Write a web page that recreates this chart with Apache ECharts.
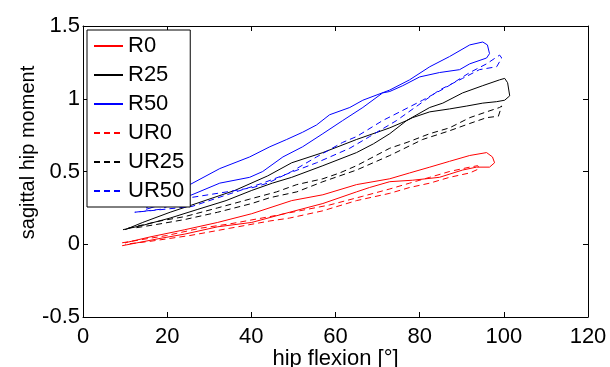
<!DOCTYPE html>
<html>
<head>
<meta charset="utf-8">
<script src="https://cdn.jsdelivr.net/npm/echarts@6/dist/echarts.min.js"></script>
<style>
  html, body { margin: 0; padding: 0; background: #fff; }
  #chart { width: 610px; height: 367px; }
</style>
</head>
<body>
<div id="chart"></div>
<script>
// hip flexion [deg] vs sagittal hip moment, one loop per condition
const seriesNames = ['R0', 'R25', 'R50', 'UR0', 'UR25', 'UR50'];

const r0 = [[9.3,-0.01],[18.3,0.04],[24.2,0.07],[32,0.12],[40.1,0.15],[49.1,0.22],[57,0.28],[65,0.36],[68.1,0.39],[72.9,0.43],[78.3,0.44],[84.7,0.46],[90.2,0.51],[93.5,0.53],[96.6,0.53],[97.8,0.56],[97.3,0.6],[95.9,0.63],[91.9,0.61],[87.1,0.57],[82.4,0.53],[77.6,0.49],[72.9,0.45],[65,0.41],[57,0.34],[49.6,0.3],[40.1,0.21],[32,0.15],[24.2,0.1],[15.9,0.05],[10,0.01]];

const r25 = [[9.5,0.1],[14.2,0.13],[20.7,0.18],[27.3,0.24],[34,0.3],[40.1,0.37],[45,0.42],[49.6,0.46],[57,0.54],[65,0.63],[69,0.69],[72.9,0.76],[76.9,0.85],[82.4,0.94],[85.5,0.97],[90.2,1.04],[95,1.09],[99,1.13],[100.2,1.14],[100.9,1.11],[101.4,1.02],[100.2,0.99],[98.3,0.98],[95,0.97],[91.2,0.95],[87.1,0.93],[82.4,0.91],[78.3,0.87],[76.9,0.85],[72.9,0.8],[65,0.72],[57,0.63],[49.6,0.56],[43.9,0.47],[36.1,0.37],[25.9,0.27],[20.7,0.22],[14.2,0.15],[10,0.1]];

const r50 = [[15,0.25],[25.4,0.41],[32.5,0.52],[39.6,0.6],[44.4,0.67],[48.4,0.72],[52.2,0.77],[55.5,0.82],[58.6,0.89],[63.4,0.94],[66.5,0.99],[72.9,1.06],[77.6,1.13],[82.4,1.22],[87.1,1.29],[91.9,1.37],[95,1.39],[96.1,1.37],[96.6,1.31],[95.9,1.28],[91.9,1.24],[89.5,1.2],[84.7,1.18],[80,1.15],[76,1.09],[72.9,1.05],[71.2,1.04],[66.5,0.94],[61.7,0.85],[57,0.76],[52.2,0.67],[47.5,0.6],[42.7,0.5],[39.6,0.46],[32.5,0.42],[25.9,0.34],[15,0.24]];

const ur0 = [[9.3,0.01],[19.9,0.06],[27.8,0.11],[34.9,0.14],[44.4,0.19],[51.5,0.23],[58.6,0.27],[66.5,0.33],[72.9,0.38],[77.6,0.42],[82.4,0.46],[87.1,0.5],[91.9,0.53],[93.8,0.54],[94.2,0.52],[91.9,0.49],[87.1,0.46],[82.4,0.42],[77.6,0.39],[72.9,0.35],[65,0.3],[57,0.23],[49.1,0.18],[44.4,0.16],[34.9,0.11],[25.4,0.06],[15.9,0.02],[10,0]];

const ur25 = [[10.7,0.11],[18.3,0.16],[24.2,0.19],[32,0.25],[39.6,0.31],[46,0.36],[50.8,0.41],[57,0.45],[61,0.49],[65,0.54],[72.9,0.66],[77,0.7],[82.4,0.76],[87.1,0.8],[91.9,0.87],[95.9,0.91],[99,0.94],[99.5,0.95],[98.7,0.88],[95.9,0.87],[91.9,0.83],[87.1,0.78],[80.7,0.72],[72.9,0.61],[65,0.51],[57,0.43],[50.8,0.36],[44.4,0.32],[40.1,0.28],[32,0.22],[24.2,0.17],[18.3,0.14],[11.9,0.11]];

const ur50 = [[12.3,0.22],[18.3,0.24],[25.4,0.32],[34.2,0.36],[40.4,0.39],[43.9,0.42],[49.6,0.5],[55.5,0.6],[61.7,0.7],[65,0.74],[71.2,0.85],[75.3,0.91],[80.7,0.99],[86.4,1.08],[91.9,1.18],[95.9,1.24],[99,1.3],[99.5,1.28],[98.3,1.22],[94.2,1.2],[90.2,1.14],[84.7,1.06],[74.5,0.85],[68.1,0.74],[63.4,0.66],[55.5,0.56],[49.1,0.49],[42.7,0.42],[34.2,0.34],[25.9,0.26],[15.9,0.23],[12.3,0.22]];

const xTicks = { min: 0, max: 120, step: 20 };
const yTicks = { min: -0.5, max: 1.5, step: 0.5 };

const font = 'Liberation Sans, Arial, Helvetica, sans-serif';
const chart = echarts.init(document.getElementById('chart'));

function loop(name, data, color, dashed) {
  return {
    name: name,
    type: 'line',
    data: data,
    symbol: 'none',
    xAxisIndex: 0,
    yAxisIndex: 0,
    lineStyle: { color: color, width: 1, type: dashed ? [6, 4] : 'solid' },
    itemStyle: { color: color }
  };
}

function boxAxis(extra, ticks, showLabels) {
  return Object.assign({
    type: 'value',
    min: ticks.min,
    max: ticks.max,
    interval: ticks.step,
    axisLine: { show: true, onZero: false, lineStyle: { color: '#000', width: 1 } },
    axisTick: { show: true, inside: true, length: 5, lineStyle: { color: '#000' } },
    axisLabel: { show: showLabels, color: '#000', fontSize: 22, fontFamily: font },
    splitLine: { show: false }
  }, extra);
}

chart.setOption({
  animation: false,
  grid: { left: 83, right: 22, top: 26, bottom: 50, containLabel: false, outerBoundsMode: 'none' },
  legend: {
    data: seriesNames,
    orient: 'vertical',
    left: 87,
    top: 30,
    padding: [5, 6, 5, 6],
    itemWidth: 29,
    itemHeight: 20,
    itemGap: 7,
    backgroundColor: '#fff',
    borderColor: '#000',
    borderWidth: 1,
    // hide the circle marker, keep only the line sample
    itemStyle: { opacity: 0 },
    textStyle: { color: '#000', fontSize: 22, lineHeight: 22, fontFamily: font }
  },
  xAxis: [
    boxAxis({
      position: 'bottom',
      name: 'hip flexion [°]',
      nameLocation: 'middle',
      nameGap: 31,
      nameMoveOverlap: false,
      nameTextStyle: { color: '#000', fontSize: 22, fontFamily: font },
      axisLabel: { show: true, color: '#000', fontSize: 22, fontFamily: font, margin: 9 }
    }, xTicks, true),
    boxAxis({ position: 'top' }, xTicks, false)
  ],
  yAxis: [
    boxAxis({
      position: 'left',
      name: 'sagittal hip moment',
      nameLocation: 'middle',
      nameRotate: 90,
      nameGap: 45,
      nameMoveOverlap: false,
      nameTextStyle: { color: '#000', fontSize: 20, fontFamily: font, padding: [0, 0, 0, 38] },
      axisLabel: { show: true, color: '#000', fontSize: 22, fontFamily: font, margin: 3 }
    }, yTicks, true),
    boxAxis({ position: 'right' }, yTicks, false)
  ],
  series: [
    loop('R0', r0, '#ff0000', false),
    loop('R25', r25, '#000000', false),
    loop('R50', r50, '#0000ff', false),
    loop('UR0', ur0, '#ff0000', true),
    loop('UR25', ur25, '#000000', true),
    loop('UR50', ur50, '#0000ff', true)
  ]
});
</script>
</body>
</html>
